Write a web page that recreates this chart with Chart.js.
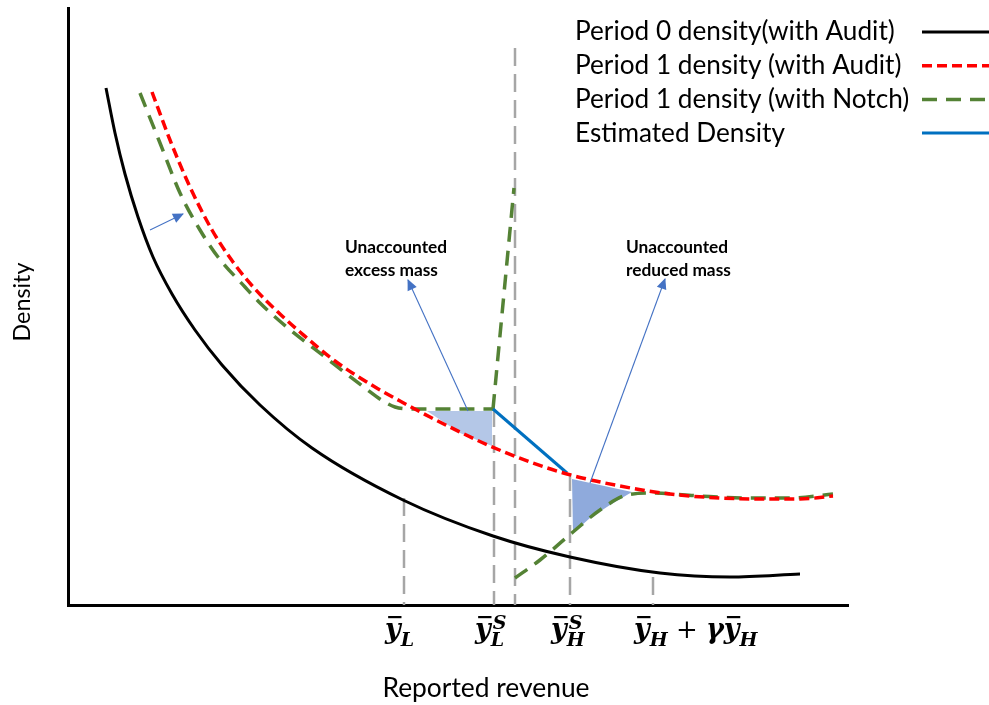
<!DOCTYPE html>
<html>
<head>
<meta charset="utf-8">
<script src="https://cdn.jsdelivr.net/npm/chart.js@4.4.1/dist/chart.umd.min.js"></script>
<style>
  html, body { margin: 0; padding: 0; background: #fff; }
  canvas { display: block; }
</style>
</head>
<body>
<canvas id="densityChart" width="989" height="705"></canvas>
<script>
// reported revenue runs 0-780 on x, density 0-597 on y (arbitrary units)
const period0Audit = [[38,517],[47,472],[57,431],[70,388],[85,348],[104,311],[127,275],[154,240],[192,200],
  [244,157],[335,105],[425,69],[502,48],[592,32],[662,28],[732,31]];
const period1Audit = [[84,513],[102,465],[122,418],[144,375],[165,343],[187,316],[212,291],[232,273],[267,244],
  [307,218],[332,204],[362,188],[392,173],[422,159],[462,143],[499,131],[552,119],[602,111],[652,107],[702,106],[732,106],[765,109]];
const notchBelow = [[72,512],[92,462],[112,412],[132,375],[150,348],[177,318],[192,302],[214,282],[257,248],
  [297,217],[315,204],[327,198],[342,196],[425,196]];
const notchJump = [[425,196],[446,417]];
const notchAbove = [[447,27],[472,45],[505,73],[532,95],[559,110],[585,112],[632,109],[682,107],[722,107],[765,111]];
const estimated = [[425,196],[499,132]];

const excessMass = [[359,194],[424,194],[424,159],[392,172]];
const reducedMass = [[504,126],[564,113],[542,100],[522,87],[505,72]];

// dashed guides: [x, top of guide]
const guides = [[336,107],[426,196],[447,557],[502,132],[585,28]];

const pointers = [
  [[82,375],[115,391]],
  [[400,194],[340,325]],
  [[522,122],[597,326]]
];

const revenueTicks = [336, 426, 502, 585];
const revenueTickLabels = [
  [['bar','y'], ['sub','L']],
  [['bar','y'], ['subsup','L','S']],
  [['bar','y'], ['subsup','H','S']],
  [['bar','y'], ['sub','H'], ['op',' + '], ['txt','γ'], ['bar','y'], ['sub','H']]
];

const notes = [
  { x: 277, y: 358, lines: ['Unaccounted', 'excess mass'] },
  { x: 558, y: 358, lines: ['Unaccounted', 'reduced mass'] }
];

const SANS = 'Lato, "Open Sans", sans-serif';
const GREEN = '#548235';

const pts = arr => arr.map(([x, y]) => ({ x, y }));

function fitFont(ctx, text, width, weight) {
  ctx.font = `${weight} 100px ${SANS}`;
  const size = 100 * width / ctx.measureText(text).width;
  return `${weight} ${size.toFixed(1)}px ${SANS}`;
}

const datasets = [
  { label: 'Period 0 density(with Audit)', legend: true, data: pts(period0Audit),
    borderColor: '#000', borderWidth: 3, cubicInterpolationMode: 'monotone', order: 4 },
  { label: 'Period 1 density (with Audit)', legend: true, data: pts(period1Audit),
    borderColor: '#ff0000', borderWidth: 3.5, borderDash: [10, 5], cubicInterpolationMode: 'monotone', order: 1 },
  { label: 'Period 1 density (with Notch)', legend: true, data: pts(notchBelow),
    borderColor: GREEN, borderWidth: 3.5, borderDash: [15, 9], cubicInterpolationMode: 'monotone', order: 3 },
  { label: 'Period 1 density (with Notch)', data: pts(notchJump),
    borderColor: GREEN, borderWidth: 3.5, borderDash: [15, 9], order: 3 },
  { label: 'Period 1 density (with Notch)', data: pts(notchAbove),
    borderColor: GREEN, borderWidth: 3.5, borderDash: [15, 9], cubicInterpolationMode: 'monotone', order: 3 },
  { label: 'Estimated Density', legend: true, data: pts(estimated),
    borderColor: '#0070c0', borderWidth: 3, order: 2 },
  { label: 'excess', data: pts(excessMass), borderWidth: 0, borderColor: 'transparent',
    backgroundColor: '#b4c7e7', fill: 'shape', order: 5 },
  { label: 'reduced', data: pts(reducedMass), borderWidth: 0, borderColor: 'transparent',
    backgroundColor: '#8faadc', fill: 'shape', order: 5 }
];
guides.forEach(([x, top]) => datasets.push({
  label: 'guide', data: pts([[x, top], [x, 0]]),
  borderColor: '#a6a6a6', borderWidth: 2.5, borderDash: [18, 8], order: 6
}));
pointers.forEach(p => datasets.push({
  label: 'pointer', arrow: true, data: pts(p), borderColor: '#4472c4', borderWidth: 1.1, order: 0
}));

const arrowHeads = {
  id: 'arrowHeads',
  afterDatasetsDraw(chart) {
    const ctx = chart.ctx;
    chart.data.datasets.forEach((ds, i) => {
      if (!ds.arrow) return;
      const el = chart.getDatasetMeta(i).data;
      const a = el[el.length - 2], b = el[el.length - 1];
      ctx.save();
      ctx.translate(b.x, b.y);
      ctx.rotate(Math.atan2(b.y - a.y, b.x - a.x));
      ctx.beginPath();
      ctx.moveTo(1, 0);
      ctx.lineTo(-10, -5);
      ctx.lineTo(-10, 5);
      ctx.closePath();
      ctx.fillStyle = ds.borderColor;
      ctx.fill();
      ctx.restore();
    });
  }
};

function drawMath(ctx, tokens, x, base) {
  const big = 'italic bold 27px "DejaVu Serif"';
  const small = 'italic bold 19px "DejaVu Serif"';
  for (const [kind, a, b] of tokens) {
    if (kind === 'bar' || kind === 'txt' || kind === 'op') {
      ctx.font = kind === 'op' ? '26px "DejaVu Serif"' : big;
      const w = ctx.measureText(a).width;
      ctx.fillText(a, x, base);
      if (kind === 'bar') ctx.fillRect(x + w * 0.2, base - 22, w * 0.85, 2.2);
      x += w;
    } else {
      ctx.font = small;
      const sub = ctx.measureText(a).width;
      ctx.fillText(a, x, base + 8);
      let w = sub;
      if (kind === 'subsup') {
        ctx.fillText(b, x + 2, base - 9);
        w = Math.max(sub, ctx.measureText(b).width + 2);
      }
      x += w;
    }
  }
}

const annotations = {
  id: 'annotations',
  afterDraw(chart) {
    const { ctx, scales: { x, y } } = chart;
    ctx.save();
    ctx.fillStyle = '#000';
    ctx.textBaseline = 'middle';

    // notes beside the pointers
    ctx.font = fitFont(ctx, 'Unaccounted', 102, 'bold');
    ctx.textAlign = 'left';
    notes.forEach(n => n.lines.forEach((t, i) =>
      ctx.fillText(t, x.getPixelForValue(n.x), y.getPixelForValue(n.y) + i * 23)));

    // axis titles
    ctx.textAlign = 'center';
    ctx.font = fitFont(ctx, 'Reported revenue', 207, 'normal');
    ctx.fillText('Reported revenue', (x.left + x.right) / 2 + 28, 688);
    ctx.save();
    ctx.translate(22, 302);
    ctx.rotate(-Math.PI / 2);
    ctx.font = fitFont(ctx, 'Density', 79, 'normal');
    ctx.fillText('Density', 0, 0);
    ctx.restore();

    // revenue thresholds under the axis
    ctx.textAlign = 'left';
    ctx.textBaseline = 'alphabetic';
    revenueTicks.forEach((v, i) => drawMath(ctx, revenueTickLabels[i], x.getPixelForValue(v) - 19, 638));

    // legend, samples on the right edge
    ctx.textBaseline = 'middle';
    ctx.font = fitFont(ctx, 'Period 0 density(with Audit)', 320, 'normal');
    chart.data.datasets.filter(d => d.legend).forEach((d, i) => {
      const cy = 32 + i * 33.7;
      ctx.fillText(d.label, 575, cy);
      ctx.save();
      ctx.strokeStyle = d.borderColor;
      ctx.lineWidth = d.borderWidth;
      ctx.setLineDash(d.borderDash || []);
      ctx.beginPath();
      ctx.moveTo(922, cy);
      ctx.lineTo(989, cy);
      ctx.stroke();
      ctx.restore();
    });
    ctx.restore();
  }
};

const whiteBg = {
  id: 'whiteBg',
  beforeDraw(chart) {
    const ctx = chart.ctx;
    ctx.save();
    ctx.fillStyle = '#fff';
    ctx.fillRect(0, 0, chart.width, chart.height);
    ctx.restore();
  }
};

const axis = (min, max) => ({
  type: 'linear', min, max,
  grid: { display: false, drawTicks: false },
  ticks: { display: false },
  border: { display: true, color: '#000', width: 3 }
});

new Chart(document.getElementById('densityChart'), {
  type: 'line',
  data: { datasets },
  options: {
    responsive: false,
    animation: false,
    devicePixelRatio: 1,
    events: [],
    layout: { padding: { left: 68, right: 141, top: 8, bottom: 100 } },
    elements: { point: { radius: 0 }, line: { tension: 0, borderCapStyle: 'butt' } },
    plugins: { legend: { display: false }, tooltip: { enabled: false } },
    scales: { x: axis(0, 780), y: axis(0, 597) }
  },
  plugins: [whiteBg, arrowHeads, annotations]
});
</script>
</body>
</html>
